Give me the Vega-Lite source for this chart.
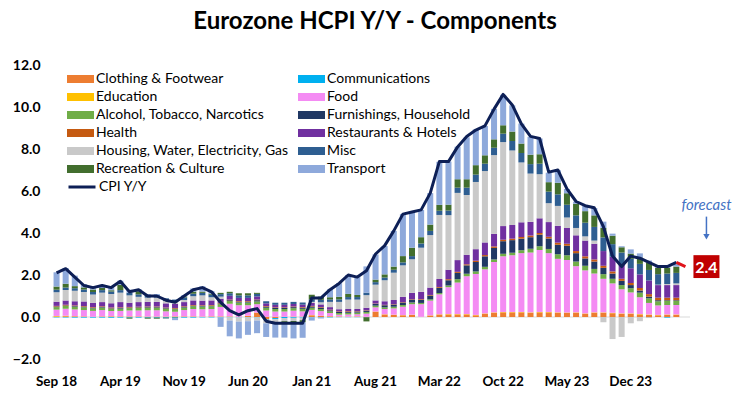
{
"$schema": "https://vega.github.io/schema/vega-lite/v6.json",
"width": 638, "height": 294,
"autosize": {"type": "none"},
"padding": {"left": 52, "top": 65, "right": 62, "bottom": 40},
"background": "white",
"config": {"font": "Lato", "view": {"stroke": null}, "axis": {"grid": false, "domain": false, "ticks": false, "tickSize": 0}},
"title": {"text": "Eurozone HCPI Y/Y - Components", "font": "Lato", "fontSize": 24, "fontWeight": "bold", "color": "#000000", "anchor": "middle", "frame": "group", "offset": 5, "baseline": "alphabetic", "dx": 4},
"datasets": {
"names": [
{"k":"clo","name":"Clothing & Footwear","i":1},
{"k":"com","name":"Communications","i":2},
{"k":"edu","name":"Education","i":3},
{"k":"food","name":"Food","i":4},
{"k":"alc","name":"Alcohol, Tobacco, Narcotics","i":5},
{"k":"fur","name":"Furnishings, Household","i":6},
{"k":"hea","name":"Health","i":7},
{"k":"res","name":"Restaurants & Hotels","i":8},
{"k":"hou","name":"Housing, Water, Electricity, Gas","i":9},
{"k":"misc","name":"Misc","i":10},
{"k":"rec","name":"Recreation & Culture","i":11},
{"k":"tra","name":"Transport","i":12}
],
"fc": [{"d":"May 24","v":2.6},{"d":"Jun 24","v":2.4}],
"hicp": [
{"d":"Sep 18","cpi":2.1,"clo":0.02,"com":-0.02,"edu":0.03,"food":0.3,"alc":0.12,"fur":0.03,"hea":0.03,"res":0.2,"hou":0.45,"misc":0.12,"rec":0.15,"tra":0.68},
{"d":"Oct 18","cpi":2.3,"clo":0.03,"com":-0.02,"edu":0.03,"food":0.33,"alc":0.13,"fur":0.03,"hea":0.03,"res":0.2,"hou":0.5,"misc":0.12,"rec":0.18,"tra":0.75},
{"d":"Nov 18","cpi":1.9,"clo":0.03,"com":-0.03,"edu":0.01,"food":0.32,"alc":0.13,"fur":0.03,"hea":0.03,"res":0.2,"hou":0.5,"misc":0.12,"rec":0.1,"tra":0.5},
{"d":"Dec 18","cpi":1.5,"clo":0.02,"com":-0.03,"edu":0.01,"food":0.3,"alc":0.13,"fur":0.03,"hea":0.03,"res":0.22,"hou":0.45,"misc":0.12,"rec":0.1,"tra":0.15},
{"d":"Jan 19","cpi":1.4,"clo":0.0,"com":-0.03,"edu":0.01,"food":0.28,"alc":0.12,"fur":0.03,"hea":0.03,"res":0.2,"hou":0.4,"misc":0.12,"rec":0.12,"tra":0.15},
{"d":"Feb 19","cpi":1.5,"clo":0.02,"com":-0.03,"edu":0.01,"food":0.3,"alc":0.12,"fur":0.03,"hea":0.03,"res":0.2,"hou":0.45,"misc":0.12,"rec":0.1,"tra":0.15},
{"d":"Mar 19","cpi":1.4,"clo":0.02,"com":-0.03,"edu":0.01,"food":0.25,"alc":0.11,"fur":0.03,"hea":0.03,"res":0.2,"hou":0.45,"misc":0.12,"rec":0.05,"tra":0.2},
{"d":"Apr 19","cpi":1.7,"clo":0.02,"com":-0.03,"edu":0.01,"food":0.26,"alc":0.11,"fur":0.03,"hea":0.03,"res":0.25,"hou":0.45,"misc":0.12,"rec":0.25,"tra":0.2},
{"d":"May 19","cpi":1.2,"clo":0.02,"com":-0.03,"edu":0.01,"food":0.28,"alc":0.11,"fur":0.03,"hea":0.03,"res":0.2,"hou":0.35,"misc":0.12,"rec":-0.05,"tra":0.15},
{"d":"Jun 19","cpi":1.3,"clo":0.02,"com":-0.03,"edu":0.01,"food":0.28,"alc":0.12,"fur":0.03,"hea":0.03,"res":0.22,"hou":0.25,"misc":0.12,"rec":0.15,"tra":0.1},
{"d":"Jul 19","cpi":1.0,"clo":0.01,"com":-0.03,"edu":0.01,"food":0.3,"alc":0.12,"fur":0.03,"hea":0.03,"res":0.22,"hou":0.2,"misc":0.12,"rec":-0.05,"tra":0.05},
{"d":"Aug 19","cpi":1.0,"clo":0.01,"com":-0.03,"edu":0.01,"food":0.3,"alc":0.12,"fur":0.03,"hea":0.03,"res":0.22,"hou":0.2,"misc":0.12,"rec":-0.05,"tra":0.05},
{"d":"Sep 19","cpi":0.8,"clo":0.01,"com":-0.03,"edu":0.01,"food":0.25,"alc":0.12,"fur":0.03,"hea":0.03,"res":0.2,"hou":0.12,"misc":0.12,"rec":-0.04,"tra":-0.02},
{"d":"Oct 19","cpi":0.7,"clo":0.02,"com":-0.03,"edu":0.01,"food":0.22,"alc":0.12,"fur":0.03,"hea":0.03,"res":0.2,"hou":0.08,"misc":0.12,"rec":-0.02,"tra":-0.1},
{"d":"Nov 19","cpi":1.0,"clo":0.02,"com":-0.03,"edu":0.01,"food":0.3,"alc":0.12,"fur":0.03,"hea":0.03,"res":0.2,"hou":0.1,"misc":0.12,"rec":0.05,"tra":0.05},
{"d":"Dec 19","cpi":1.3,"clo":0.02,"com":-0.03,"edu":0.01,"food":0.35,"alc":0.13,"fur":0.03,"hea":0.03,"res":0.22,"hou":0.2,"misc":0.12,"rec":0.1,"tra":0.15},
{"d":"Jan 20","cpi":1.4,"clo":0.01,"com":-0.02,"edu":0.01,"food":0.35,"alc":0.13,"fur":0.03,"hea":0.03,"res":0.22,"hou":0.25,"misc":0.12,"rec":0.06,"tra":0.25},
{"d":"Feb 20","cpi":1.2,"clo":0.02,"com":-0.02,"edu":0.01,"food":0.35,"alc":0.13,"fur":0.03,"hea":0.03,"res":0.22,"hou":0.15,"misc":0.12,"rec":0.05,"tra":0.12},
{"d":"Mar 20","cpi":0.7,"clo":0.02,"com":-0.02,"edu":0.01,"food":0.45,"alc":0.13,"fur":0.03,"hea":0.03,"res":0.2,"hou":0.1,"misc":0.12,"rec":0.06,"tra":-0.45},
{"d":"Apr 20","cpi":0.3,"clo":0.02,"com":-0.02,"edu":0.01,"food":0.6,"alc":0.13,"fur":0.04,"hea":0.03,"res":0.18,"hou":-0.15,"misc":0.12,"rec":0.07,"tra":-0.75},
{"d":"May 20","cpi":0.1,"clo":0.0,"com":-0.02,"edu":0.01,"food":0.55,"alc":0.13,"fur":0.04,"hea":0.03,"res":0.15,"hou":-0.2,"misc":0.12,"rec":0.1,"tra":-0.8},
{"d":"Jun 20","cpi":0.3,"clo":0.05,"com":-0.02,"edu":0.01,"food":0.5,"alc":0.13,"fur":0.04,"hea":0.03,"res":0.15,"hou":-0.18,"misc":0.12,"rec":0.1,"tra":-0.65},
{"d":"Jul 20","cpi":0.4,"clo":0.2,"com":-0.02,"edu":0.01,"food":0.4,"alc":0.13,"fur":0.06,"hea":0.03,"res":0.15,"hou":-0.15,"misc":0.12,"rec":0.05,"tra":-0.6},
{"d":"Aug 20","cpi":-0.2,"clo":-0.12,"com":-0.03,"edu":0.01,"food":0.3,"alc":0.13,"fur":0.05,"hea":0.03,"res":0.13,"hou":-0.15,"misc":0.1,"rec":0.0,"tra":-0.65},
{"d":"Sep 20","cpi":-0.3,"clo":-0.05,"com":-0.05,"edu":0.01,"food":0.25,"alc":0.12,"fur":0.05,"hea":0.03,"res":0.12,"hou":-0.15,"misc":0.1,"rec":-0.08,"tra":-0.65},
{"d":"Oct 20","cpi":-0.3,"clo":0.0,"com":-0.05,"edu":0.01,"food":0.25,"alc":0.12,"fur":0.05,"hea":0.03,"res":0.12,"hou":-0.15,"misc":0.1,"rec":-0.1,"tra":-0.68},
{"d":"Nov 20","cpi":-0.3,"clo":0.01,"com":-0.04,"edu":0.01,"food":0.28,"alc":0.12,"fur":0.05,"hea":0.03,"res":0.12,"hou":-0.15,"misc":0.1,"rec":-0.08,"tra":-0.75},
{"d":"Dec 20","cpi":-0.3,"clo":0.01,"com":-0.03,"edu":0.01,"food":0.25,"alc":0.12,"fur":0.05,"hea":0.03,"res":0.12,"hou":-0.12,"misc":0.1,"rec":-0.1,"tra":-0.74},
{"d":"Jan 21","cpi":0.9,"clo":0.08,"com":-0.02,"edu":0.01,"food":0.25,"alc":0.1,"fur":0.06,"hea":0.03,"res":0.14,"hou":0.05,"misc":0.12,"rec":0.22,"tra":-0.15},
{"d":"Feb 21","cpi":0.9,"clo":0.05,"com":-0.02,"edu":0.01,"food":0.22,"alc":0.1,"fur":0.06,"hea":0.03,"res":0.13,"hou":0.1,"misc":0.12,"rec":0.15,"tra":-0.05},
{"d":"Mar 21","cpi":1.3,"clo":0.03,"com":-0.02,"edu":0.01,"food":0.15,"alc":0.08,"fur":0.05,"hea":0.03,"res":0.12,"hou":0.25,"misc":0.12,"rec":0.1,"tra":0.38},
{"d":"Apr 21","cpi":1.6,"clo":0.02,"com":-0.01,"edu":0.01,"food":0.08,"alc":0.08,"fur":0.05,"hea":0.03,"res":0.1,"hou":0.35,"misc":0.12,"rec":0.12,"tra":0.65},
{"d":"May 21","cpi":2.0,"clo":0.01,"com":-0.01,"edu":0.01,"food":0.1,"alc":0.08,"fur":0.05,"hea":0.03,"res":0.1,"hou":0.45,"misc":0.12,"rec":0.15,"tra":0.9},
{"d":"Jun 21","cpi":1.9,"clo":0.02,"com":-0.01,"edu":0.01,"food":0.1,"alc":0.08,"fur":0.05,"hea":0.02,"res":0.1,"hou":0.45,"misc":0.12,"rec":0.1,"tra":0.85},
{"d":"Jul 21","cpi":2.2,"clo":0.0,"com":-0.01,"edu":0.01,"food":0.15,"alc":0.08,"fur":0.06,"hea":0.02,"res":0.12,"hou":0.6,"misc":0.12,"rec":-0.2,"tra":1.25},
{"d":"Aug 21","cpi":3.0,"clo":0.25,"com":0.0,"edu":0.01,"food":0.2,"alc":0.08,"fur":0.08,"hea":0.02,"res":0.15,"hou":0.75,"misc":0.12,"rec":0.12,"tra":1.2},
{"d":"Sep 21","cpi":3.4,"clo":0.12,"com":0.0,"edu":0.01,"food":0.25,"alc":0.08,"fur":0.1,"hea":0.02,"res":0.17,"hou":1.0,"misc":0.13,"rec":0.15,"tra":1.35},
{"d":"Oct 21","cpi":4.1,"clo":0.1,"com":0.0,"edu":0.01,"food":0.3,"alc":0.08,"fur":0.1,"hea":0.02,"res":0.2,"hou":1.3,"misc":0.14,"rec":0.15,"tra":1.7},
{"d":"Nov 21","cpi":4.9,"clo":0.08,"com":0.0,"edu":0.01,"food":0.4,"alc":0.08,"fur":0.12,"hea":0.02,"res":0.25,"hou":1.5,"misc":0.14,"rec":0.3,"tra":2.0},
{"d":"Dec 21","cpi":5.0,"clo":0.1,"com":0.0,"edu":0.01,"food":0.5,"alc":0.08,"fur":0.14,"hea":0.02,"res":0.3,"hou":1.6,"misc":0.15,"rec":0.4,"tra":1.7},
{"d":"Jan 22","cpi":5.1,"clo":0.0,"com":0.0,"edu":0.01,"food":0.6,"alc":0.06,"fur":0.15,"hea":0.03,"res":0.35,"hou":2.1,"misc":0.2,"rec":0.3,"tra":1.3},
{"d":"Feb 22","cpi":5.9,"clo":0.07,"com":0.0,"edu":0.01,"food":0.7,"alc":0.06,"fur":0.18,"hea":0.03,"res":0.35,"hou":2.5,"misc":0.2,"rec":0.3,"tra":1.5},
{"d":"Mar 22","cpi":7.4,"clo":0.12,"com":0.0,"edu":0.01,"food":0.95,"alc":0.06,"fur":0.25,"hea":0.04,"res":0.38,"hou":3.05,"misc":0.2,"rec":0.28,"tra":2.05},
{"d":"Apr 22","cpi":7.4,"clo":0.12,"com":0.0,"edu":0.02,"food":1.28,"alc":0.08,"fur":0.25,"hea":0.05,"res":0.45,"hou":2.6,"misc":0.22,"rec":0.28,"tra":2.05},
{"d":"May 22","cpi":8.1,"clo":0.12,"com":0.0,"edu":0.02,"food":1.5,"alc":0.16,"fur":0.3,"hea":0.05,"res":0.56,"hou":3.2,"misc":0.25,"rec":0.4,"tra":1.55},
{"d":"Jun 22","cpi":8.6,"clo":0.12,"com":0.0,"edu":0.02,"food":1.8,"alc":0.12,"fur":0.4,"hea":0.05,"res":0.45,"hou":2.85,"misc":0.35,"rec":0.4,"tra":2.0},
{"d":"Jul 22","cpi":8.9,"clo":0.08,"com":0.0,"edu":0.02,"food":1.95,"alc":0.12,"fur":0.45,"hea":0.06,"res":0.55,"hou":3.2,"misc":0.35,"rec":0.45,"tra":1.7},
{"d":"Aug 22","cpi":9.1,"clo":0.15,"com":0.0,"edu":0.02,"food":2.1,"alc":0.12,"fur":0.5,"hea":0.06,"res":0.6,"hou":3.4,"misc":0.35,"rec":0.4,"tra":1.4},
{"d":"Sep 22","cpi":9.9,"clo":0.2,"com":0.0,"edu":0.02,"food":2.4,"alc":0.12,"fur":0.55,"hea":0.07,"res":0.6,"hou":3.75,"misc":0.35,"rec":0.4,"tra":1.45},
{"d":"Oct 22","cpi":10.6,"clo":0.22,"com":0.0,"edu":0.02,"food":2.65,"alc":0.12,"fur":0.6,"hea":0.07,"res":0.65,"hou":4.0,"misc":0.4,"rec":0.4,"tra":1.45},
{"d":"Nov 22","cpi":10.1,"clo":0.22,"com":0.0,"edu":0.02,"food":2.7,"alc":0.12,"fur":0.6,"hea":0.07,"res":0.65,"hou":3.55,"misc":0.45,"rec":0.45,"tra":1.25},
{"d":"Dec 22","cpi":9.2,"clo":0.22,"com":0.0,"edu":0.02,"food":2.8,"alc":0.14,"fur":0.55,"hea":0.08,"res":0.7,"hou":2.85,"misc":0.45,"rec":0.45,"tra":0.95},
{"d":"Jan 23","cpi":8.6,"clo":0.2,"com":0.0,"edu":0.02,"food":2.85,"alc":0.18,"fur":0.55,"hea":0.08,"res":0.65,"hou":2.3,"misc":0.45,"rec":0.45,"tra":0.85},
{"d":"Feb 23","cpi":8.5,"clo":0.22,"com":0.0,"edu":0.02,"food":2.95,"alc":0.18,"fur":0.55,"hea":0.08,"res":0.7,"hou":2.1,"misc":0.5,"rec":0.45,"tra":0.75},
{"d":"Mar 23","cpi":6.9,"clo":0.22,"com":0.0,"edu":0.02,"food":2.8,"alc":0.2,"fur":0.5,"hea":0.08,"res":0.7,"hou":0.9,"misc":0.55,"rec":0.45,"tra":0.45},
{"d":"Apr 23","cpi":7.0,"clo":0.2,"com":0.0,"edu":0.02,"food":2.55,"alc":0.22,"fur":0.45,"hea":0.1,"res":0.8,"hou":0.95,"misc":0.55,"rec":0.55,"tra":0.6},
{"d":"May 23","cpi":6.1,"clo":0.2,"com":0.0,"edu":0.02,"food":2.5,"alc":0.22,"fur":0.45,"hea":0.1,"res":0.75,"hou":0.5,"misc":0.6,"rec":0.55,"tra":0.2},
{"d":"Jun 23","cpi":5.5,"clo":0.2,"com":0.0,"edu":0.02,"food":2.2,"alc":0.22,"fur":0.4,"hea":0.1,"res":0.75,"hou":0.35,"misc":0.6,"rec":0.55,"tra":0.1},
{"d":"Jul 23","cpi":5.3,"clo":0.15,"com":0.0,"edu":0.02,"food":2.05,"alc":0.22,"fur":0.35,"hea":0.1,"res":0.75,"hou":0.2,"misc":0.65,"rec":0.55,"tra":0.25},
{"d":"Aug 23","cpi":5.2,"clo":0.2,"com":0.0,"edu":0.02,"food":1.85,"alc":0.22,"fur":0.35,"hea":0.1,"res":0.75,"hou":0.15,"misc":0.65,"rec":0.55,"tra":0.35},
{"d":"Sep 23","cpi":4.3,"clo":0.2,"com":0.0,"edu":0.02,"food":1.6,"alc":0.22,"fur":0.3,"hea":0.1,"res":0.7,"hou":-0.25,"misc":0.65,"rec":0.45,"tra":0.3},
{"d":"Oct 23","cpi":2.9,"clo":0.18,"com":0.0,"edu":0.02,"food":1.4,"alc":0.22,"fur":0.25,"hea":0.1,"res":0.7,"hou":-1.05,"misc":0.6,"rec":0.4,"tra":0.1},
{"d":"Nov 23","cpi":2.4,"clo":0.15,"com":0.0,"edu":0.02,"food":1.15,"alc":0.2,"fur":0.2,"hea":0.1,"res":0.7,"hou":-0.95,"misc":0.55,"rec":0.25,"tra":0.05},
{"d":"Dec 23","cpi":2.9,"clo":0.15,"com":0.0,"edu":0.02,"food":1.0,"alc":0.2,"fur":0.15,"hea":0.1,"res":0.7,"hou":-0.3,"misc":0.45,"rec":0.25,"tra":0.2},
{"d":"Jan 24","cpi":2.8,"clo":0.12,"com":0.0,"edu":0.02,"food":0.8,"alc":0.22,"fur":0.1,"hea":0.12,"res":0.65,"hou":-0.2,"misc":0.5,"rec":0.3,"tra":0.2},
{"d":"Feb 24","cpi":2.6,"clo":0.1,"com":0.0,"edu":0.02,"food":0.55,"alc":0.22,"fur":0.08,"hea":0.12,"res":0.65,"hou":-0.05,"misc":0.5,"rec":0.35,"tra":0.1},
{"d":"Mar 24","cpi":2.4,"clo":0.08,"com":0.0,"edu":0.02,"food":0.45,"alc":0.2,"fur":0.05,"hea":0.12,"res":0.6,"hou":0.02,"misc":0.5,"rec":0.3,"tra":0.1},
{"d":"Apr 24","cpi":2.4,"clo":0.1,"com":-0.03,"edu":0.02,"food":0.45,"alc":0.2,"fur":0.03,"hea":0.12,"res":0.6,"hou":0.05,"misc":0.5,"rec":0.28,"tra":0.1},
{"d":"May 24","cpi":2.6,"clo":0.1,"com":0.0,"edu":0.02,"food":0.45,"alc":0.2,"fur":0.03,"hea":0.12,"res":0.6,"hou":0.08,"misc":0.5,"rec":0.3,"tra":0.2}
]
},
"layer": [
{"data": {"values": [{}]}, "mark": {"type": "rule", "color": "#D9D9D9", "strokeWidth": 1}, "encoding": {"y": {"datum": 0, "type": "quantitative"}}},
{"data": {"name": "hicp"},
 "transform": [
  {"fold": ["clo","com","edu","food","alc","fur","hea","res","hou","misc","rec","tra"], "as": ["key","v"]},
  {"lookup": "key", "from": {"data": {"name": "names"}, "key": "k", "fields": ["name","i"]}}
 ],
 "mark": {"type": "bar"},
 "encoding": {
  "x": {"field": "d", "type": "ordinal",
   "scale": {"domain": ["Sep 18","Oct 18","Nov 18","Dec 18","Jan 19","Feb 19","Mar 19","Apr 19","May 19","Jun 19","Jul 19","Aug 19","Sep 19","Oct 19","Nov 19","Dec 19","Jan 20","Feb 20","Mar 20","Apr 20","May 20","Jun 20","Jul 20","Aug 20","Sep 20","Oct 20","Nov 20","Dec 20","Jan 21","Feb 21","Mar 21","Apr 21","May 21","Jun 21","Jul 21","Aug 21","Sep 21","Oct 21","Nov 21","Dec 21","Jan 22","Feb 22","Mar 22","Apr 22","May 22","Jun 22","Jul 22","Aug 22","Sep 22","Oct 22","Nov 22","Dec 22","Jan 23","Feb 23","Mar 23","Apr 23","May 23","Jun 23","Jul 23","Aug 23","Sep 23","Oct 23","Nov 23","Dec 23","Jan 24","Feb 24","Mar 24","Apr 24","May 24","Jun 24"], "paddingInner": 0.34, "paddingOuter": 0.17},
   "axis": {"values": ["Sep 18","Apr 19","Nov 19","Jun 20","Jan 21","Aug 21","Mar 22","Oct 22","May 23","Dec 23"], "labelAngle": 0, "labelFont": "Lato", "labelFontSize": 13.5, "labelFontWeight": "bold", "labelColor": "#000000", "labelPadding": 15, "title": null}},
  "y": {"field": "v", "type": "quantitative", "stack": "zero",
   "scale": {"domain": [-2, 12], "nice": false, "zero": false},
   "axis": {"values": [-2,0,2,4,6,8,10,12], "format": ".1f", "labelFont": "Lato", "labelFontSize": 14, "labelFontWeight": "bold", "labelColor": "#000000", "labelPadding": 12, "title": null}},
  "color": {"field": "name", "type": "nominal",
   "scale": {"domain": ["Clothing & Footwear","Communications","Education","Food","Alcohol, Tobacco, Narcotics","Furnishings, Household","Health","Restaurants & Hotels","Housing, Water, Electricity, Gas","Misc","Recreation & Culture","Transport"],
             "range": ["#ED7D31","#00B0F0","#FFC000","#F48BF3","#70AD47","#203864","#C55A11","#7030A0","#C9C9C9","#2E5E91","#426E2E","#8EA9DB"]},
   "legend": {"title": null, "orient": "none", "legendX": 15, "legendY": 6, "direction": "vertical", "columns": 2,
    "values": ["Clothing & Footwear","Education","Alcohol, Tobacco, Narcotics","Health","Housing, Water, Electricity, Gas","Recreation & Culture","Communications","Food","Furnishings, Household","Restaurants & Hotels","Misc","Transport"],
    "symbolType": "M-1,-0.3H1V0.3H-1Z", "symbolSize": 729, "symbolStrokeWidth": 0, "symbolOpacity": 1, "labelFont": "Lato", "labelFontSize": 14, "labelColor": "#000000", "labelOffset": 2, "rowPadding": 2, "columnPadding": 9, "clipHeight": 16, "padding": 0, "labelLimit": 300}},
  "order": {"field": "i", "type": "quantitative"}
 }},
{"data": {"name": "hicp"}, "mark": {"type": "line", "strokeWidth": 3, "strokeJoin": "round"},
 "encoding": {
  "x": {"field": "d", "type": "ordinal"},
  "y": {"field": "cpi", "type": "quantitative"},
  "stroke": {"datum": "CPI Y/Y", "type": "nominal", "scale": {"range": ["#0D1F56"]},
   "legend": {"title": null, "orient": "none", "legendX": 15, "legendY": 114, "symbolType": "stroke", "symbolSize": 729, "symbolStrokeWidth": 3, "labelFont": "Lato", "labelFontSize": 14, "labelColor": "#000000", "labelOffset": 2, "clipHeight": 16, "padding": 0}}
 }},
{"data": {"name": "fc"}, "mark": {"type": "line", "strokeWidth": 3, "color": "#E0141B"},
 "encoding": {"x": {"field": "d", "type": "ordinal"}, "y": {"field": "v", "type": "quantitative"}}},
{"data": {"values": [{"t": "forecast"}]}, "mark": {"type": "text", "font": "Lato", "fontStyle": "italic", "fontSize": 15, "color": "#4472C4", "dx": 21},
 "encoding": {"x": {"datum": "Jun 24", "type": "ordinal"}, "y": {"datum": 5.35, "type": "quantitative"}, "text": {"field": "t"}}},
{"data": {"values": [{}]}, "mark": {"type": "rule", "color": "#4472C4", "strokeWidth": 1.5, "xOffset": 21},
 "encoding": {"x": {"datum": "Jun 24", "type": "ordinal"}, "y": {"datum": 4.78, "type": "quantitative"}, "y2": {"datum": 3.85}}},
{"data": {"values": [{}]}, "mark": {"type": "point", "shape": "triangle-down", "filled": true, "color": "#4472C4", "size": 40, "opacity": 1, "xOffset": 21},
 "encoding": {"x": {"datum": "Jun 24", "type": "ordinal"}, "y": {"datum": 3.82, "type": "quantitative"}}},
{"data": {"name": "fc"}, "transform": [{"filter": "datum.d == 'Jun 24'"}], "mark": {"type": "point", "shape": "M-1,-0.88H1V0.88H-1Z", "filled": true, "color": "#C00000", "size": 676, "opacity": 1, "xOffset": 21},
 "encoding": {"x": {"field": "d", "type": "ordinal"}, "y": {"field": "v", "type": "quantitative"}}},
{"data": {"name": "fc"}, "transform": [{"filter": "datum.d == 'Jun 24'"}], "mark": {"type": "text", "font": "Lato", "fontWeight": "bold", "fontSize": 16, "color": "#FFFFFF", "dx": 21, "dy": 1},
 "encoding": {"x": {"field": "d", "type": "ordinal"}, "y": {"field": "v", "type": "quantitative"}, "text": {"field": "v", "format": ".1f"}}}
]
}
